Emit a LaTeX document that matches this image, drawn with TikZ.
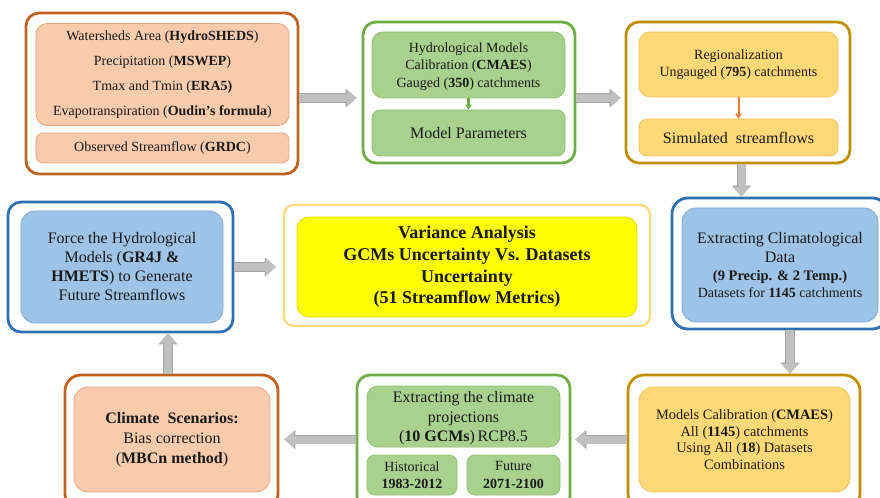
\documentclass[tikz,border=0pt]{standalone}
\usepackage{fontspec}
\setmainfont{Liberation Serif}
\usetikzlibrary{arrows.meta}
\definecolor{peachfill}{HTML}{F8CBAD}
\definecolor{peachline}{HTML}{E9A57E}
\definecolor{brownline}{HTML}{C2601E}
\definecolor{greenfill}{HTML}{A9D18E}
\definecolor{greenin}{HTML}{8EBF6C}
\definecolor{greenline}{HTML}{70AD47}
\definecolor{goldfill}{HTML}{FFD878}
\definecolor{goldin}{HTML}{F0C25A}
\definecolor{goldline}{HTML}{BF9000}
\definecolor{bluefill}{HTML}{9DC3E6}
\definecolor{bluein}{HTML}{7DAAD6}
\definecolor{blueline}{HTML}{2E70B0}
\definecolor{yelfill}{HTML}{FFFF00}
\definecolor{yelin}{HTML}{E2D400}
\definecolor{yelline}{HTML}{FFD97A}
\definecolor{arrowfill}{HTML}{C0C0C0}
\definecolor{arrowline}{HTML}{A6A6A6}
\definecolor{smallorange}{HTML}{ED7D31}
\begin{document}
\begin{tikzpicture}[x=1bp,y=-1bp,
  dims/.style 2 args={minimum width=#1bp, minimum height=#2bp},
  outerbox/.style={draw, line width=2.8bp, rounded corners=13bp, fill=white, inner sep=0pt},
  innerbox/.style={draw, line width=0.8bp, rounded corners=11bp, inner sep=0pt, align=center, text=black!90},
  fa/.style={font=\fontsize{14bp}{17.5bp}\selectfont},
  fb/.style={font=\fontsize{16bp}{19bp}\selectfont},
  garrowbg/.style={line width=9.6bp, draw=arrowline, -{Triangle[length=11bp,width=18.5bp]}},
  garrow/.style={line width=8bp, draw=arrowfill, -{Triangle[length=9.8bp,width=16.5bp]}},
  sarrow/.style={line width=2.4bp, -{Triangle[length=5bp,width=6.5bp]}}
]
\clip (0,0) rectangle (880,498);
\fill[white] (0,0) rectangle (880,498);

% ---- top left
\node[outerbox, draw=brownline, dims={272}{161}] (tlo) at (162,93.5) {};
\node[innerbox, fill=peachfill, draw=peachline, dims={253}{102}, font=\fontsize{14bp}{25bp}\selectfont] (tli) at (162.5,74.5)
  {Watersheds Area (\textbf{HydroSHEDS})\\Precipitation (\textbf{MSWEP})\\Tmax and Tmin (\textbf{ERA5)}\\Evapotranspiration (\textbf{Oudin’s formula})};
\node[innerbox, fill=peachfill, draw=peachline, dims={253}{30}, rounded corners=7bp, fa] (tlb) at (162.5,148)
  {Observed Streamflow (\textbf{GRDC})};

% ---- top middle
\node[outerbox, draw=greenline, dims={212}{141}] (tmo) at (469,92.5) {};
\node[innerbox, fill=greenfill, draw=greenin, dims={193}{66}, fa, text depth=-2bp] (tmi) at (468.5,65)
  {Hydrological Models\\Calibration (\textbf{CMAES})\\Gauged (\textbf{350}) catchments};
\node[innerbox, fill=greenfill, draw=greenin, dims={193}{46}, rounded corners=8bp, fb] (tmb) at (468.5,133)
  {Model Parameters};
\draw[sarrow, draw=greenline, fill=greenline] (tmi.south) -- (tmb.north);

% ---- top right
\node[outerbox, draw=goldline, dims={224}{141}] (tro) at (738,92.5) {};
\node[innerbox, fill=goldfill, draw=goldin, dims={199}{65}, fa] (tri) at (738.5,64.5)
  {Regionalization\\Ungauged (\textbf{795}) catchments};
\node[innerbox, fill=goldfill, draw=goldin, dims={199}{37}, rounded corners=8bp, fb] (trb) at (738.5,137.5)
  {Simulated\ \ streamflows};
\draw[sarrow, draw=smallorange, fill=smallorange, line width=2bp] (tri.south) -- (trb.north);

% ---- middle left
\node[outerbox, draw=blueline, dims={225}{130}] (mlo) at (120.5,267) {};
\node[innerbox, fill=bluefill, draw=bluein, dims={202}{112}, rounded corners=14bp, fb] (mli) at (122,267)
  {Force the Hydrological\\Models (\textbf{GR4J \&}\\\textbf{HMETS}) to Generate\\Future Streamflows};

% ---- centre
\node[outerbox, draw=yelline, line width=2.2bp, dims={366}{121}, rounded corners=10bp] (co) at (467,265.5) {};
\node[innerbox, fill=yelfill, draw=yelin, dims={340}{100}, rounded corners=12bp, font=\fontsize{18bp}{21.7bp}\selectfont\bfseries] (ci) at (467,267)
  {Variance Analysis\\GCMs Uncertainty Vs. Datasets\\Uncertainty\\(51 Streamflow Metrics)};

% ---- middle right
\node[outerbox, draw=blueline, dims={216}{131}, rounded corners=16bp] (mro) at (780,263.5) {};
\node[innerbox, fill=bluefill, draw=bluein, dims={196}{114}, rounded corners=14bp, font=\fontsize{16bp}{19bp}\selectfont, text depth=-2bp] (mri) at (780,265)
  {Extracting\ Climatological\\Data\\[-1bp]
   {\fontsize{14.5bp}{19bp}\selectfont\textbf{(9 Precip. \& 2 Temp.)}}\\[-1.5bp]
   {\fontsize{14bp}{19bp}\selectfont Datasets for \textbf{1145} catchments}};

% ---- bottom right
\node[outerbox, draw=goldline, dims={232}{135}, rounded corners=16bp] (bro) at (744,442.5) {};
\node[innerbox, fill=goldfill, draw=goldin, dims={211}{105}, rounded corners=14bp, font=\fontsize{14.4bp}{16.7bp}\selectfont] (bri) at (744.5,439.5)
  {Models Calibration (\textbf{CMAES})\\All (\textbf{1145}) catchments\\Using All (\textbf{18}) Datasets\\Combinations};

% ---- bottom middle
\node[outerbox, draw=greenline, dims={213}{135}] (bmo) at (463.5,442.5) {};
\node[innerbox, fill=greenfill, draw=greenin, dims={193}{61}, font=\fontsize{16bp}{19.5bp}\selectfont, text depth=-3bp] (bmi) at (463.5,416.5)
  {Extracting\ the climate\\projections\\(\textbf{10 GCMs})\,RCP8.5};
\node[innerbox, fill=greenfill, draw=greenin, dims={90}{40}, rounded corners=8bp, fa] (bmh) at (412,475)
  {Historical\\\textbf{1983-2012}};
\node[innerbox, fill=greenfill, draw=greenin, dims={93}{40}, rounded corners=8bp, fa] (bmf) at (513.5,475)
  {Future\\\textbf{2071-2100}};

% ---- bottom left
\node[outerbox, draw=brownline, dims={213}{135}, rounded corners=16bp] (blo) at (171.5,442.5) {};
\node[innerbox, fill=peachfill, draw=peachline, dims={196}{105}, rounded corners=14bp, font=\fontsize{16bp}{20bp}\selectfont] (bli) at (172,439.5)
  {\textbf{Climate\ \ Scenarios:}\\Bias correction\\(\textbf{MBCn method})};

% ---- gray block arrows
\foreach \st in {garrowbg,garrow}{
  \draw[\st, shorten >=5bp] ([yshift=-4.5bp]tlo.east) -- ([yshift=-4.5bp]tlo.east -| tmo.west);
  \draw[\st, shorten >=4bp] ([yshift=-5.5bp]tmo.east) -- ([yshift=-5.5bp]tmo.east -| tro.west);
  \draw[\st] ([xshift=3.5bp]tro.south) -- ([xshift=3.5bp]tro.south |- mro.north);
  \draw[\st] ([xshift=10bp]mro.south) -- ([xshift=10bp]mro.south |- bro.north);
  \draw[\st, shorten >=4bp] ([yshift=3bp]bro.west) -- ([yshift=3bp]bro.west -| bmo.east);
  \draw[\st, shorten >=5bp] ([yshift=3bp]bmo.west) -- ([yshift=3bp]bmo.west -| blo.east);
  \draw[\st] ([xshift=-3.5bp]blo.north) -- ([xshift=-3.5bp]blo.north |- mlo.south);
  \draw[\st, shorten >=7bp] (mlo.east) -- (mlo.east -| co.west);
}
\end{tikzpicture}
\end{document}
